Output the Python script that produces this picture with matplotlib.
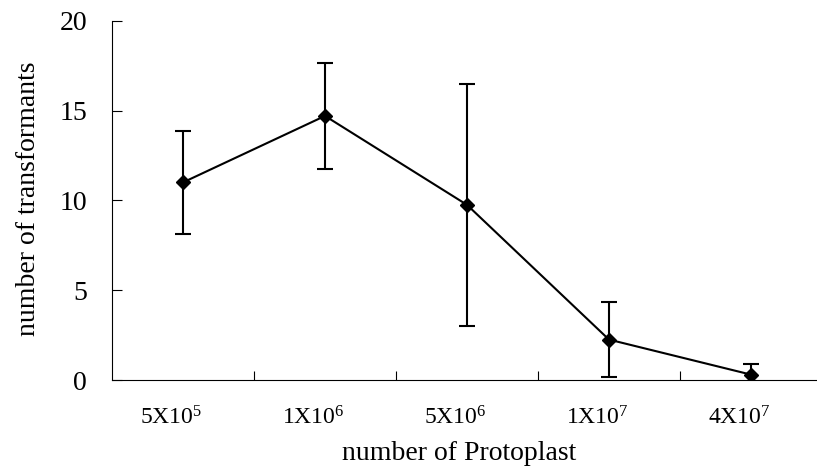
import numpy as np
import matplotlib
matplotlib.use('Agg')
import matplotlib.pyplot as plt
from matplotlib.transforms import ScaledTranslation

plt.rcParams['font.family'] = ['Liberation Serif', 'DejaVu Serif']
plt.rcParams['mathtext.fontset'] = 'custom'
plt.rcParams['mathtext.rm'] = 'Liberation Serif'
plt.rcParams['mathtext.it'] = 'Liberation Serif'

labels = ['5X10$^5$', '1X10$^6$', '5X10$^6$', '1X10$^7$', '4X10$^7$']
means = [11.0, 14.7, 9.75, 2.25, 0.3]
errs = [2.85, 2.95, 6.75, 2.1, 0.6]

fig = plt.figure(figsize=(8.17, 4.73), dpi=100)
ax = fig.add_axes([0.1371, 0.1966, 0.869, 0.7596])

x = np.arange(len(labels))
ax.errorbar(x, means, yerr=errs, color='black', marker='D', markersize=7,
            linewidth=1.5, elinewidth=1.5, capsize=5.5, capthick=1.5)

ax.set_xlim(-0.5, len(labels) - 0.5)
ax.set_ylim(0, 20)
ax.set_yticks([0, 5, 10, 15, 20])

# category boundaries get the ticks, labels sit on the centres
ax.set_xticks(np.arange(0.5, len(labels) - 0.5, 1.0))
ax.set_xticklabels([])
ax.set_xticks(x, minor=True)
ax.set_xticklabels(labels, minor=True)
ax.tick_params(axis='x', which='major', direction='in', length=6.5, width=0.8)
ax.tick_params(axis='x', which='minor', length=0, pad=19, labelsize=17)
ax.tick_params(axis='y', direction='in', length=7, width=0.8, pad=18, labelsize=20)

# labels in the original sit a little left of the category centre
shift = ScaledTranslation(-0.12, 0, fig.dpi_scale_trans)
for lab in ax.get_xticklabels(minor=True):
    lab.set_transform(lab.get_transform() + shift)

ax.spines['top'].set_visible(False)
ax.spines['right'].set_visible(False)

ax.set_xlabel('number of Protoplast', fontsize=20)
ax.set_ylabel('number of transformants', fontsize=20)
ax.xaxis.set_label_coords(0.489, -0.17)
ax.yaxis.set_label_coords(-0.10, 0.505)

fig.savefig('out.png', dpi=100)
